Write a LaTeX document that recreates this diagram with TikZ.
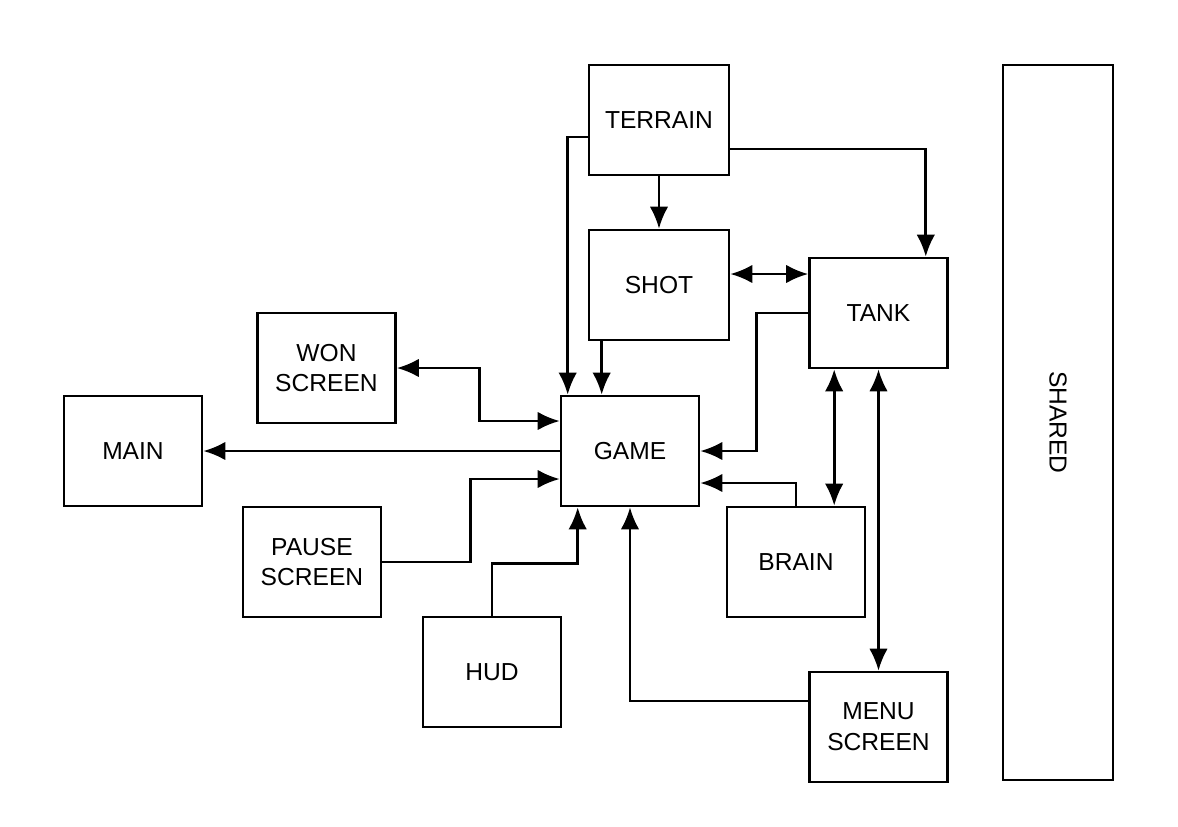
\documentclass[tikz,border=0pt]{standalone}
\usepackage{fontspec}
\setmainfont{Liberation Sans}
\usetikzlibrary{arrows.meta,calc}

\tikzset{
	block/.style={draw, line width=1.5pt, minimum width=2.76cm, minimum height=2.2cm, align=center, inner sep=0pt, font=\fontsize{14}{17.5}\selectfont},
	arr/.style={line width=1.5pt, -{Latex[length=12.5pt,width=10.5pt]}},
	darr/.style={line width=1.5pt, {Latex[length=12.5pt,width=10.5pt]}-{Latex[length=12.5pt,width=10.5pt]}}
}

\begin{document}
\begin{tikzpicture}[x=0.02cm, y=-0.02cm]
		\useasboundingbox (0,0) rectangle (1178,826);

		\node[block, minimum width=2.8cm] (terrain) at (659,120) {TERRAIN};
		\node[block, minimum width=2.8cm] (shot) at (659,285) {SHOT};
		\node[block] (tank) at (878.5,313) {TANK};
		\node[block] (won) at (326.5,368) {WON\\SCREEN};
		\node[block] (main) at (133,451) {MAIN};
		\node[block] (game) at (630,451) {GAME};
		\node[block] (pause) at (312,562) {PAUSE\\SCREEN};
		\node[block] (brain) at (796,562) {BRAIN};
		\node[block] (hud) at (492,672) {HUD};
		\node[block] (menu) at (878.5,727) {MENU\\SCREEN};
		\node[block, minimum width=2.2cm, minimum height=14.3cm] (shared) at (1058,422.5) {\rotatebox{-90}{SHARED}};

		% terrain
		\draw[arr] ($(terrain.west)+(0,17)$) -| ($(game.north west)+(8,0)$);
		\draw[arr] (terrain.south) -- (shot.north);
		\draw[arr] ($(terrain.east)+(0,29)$) -| ($(tank.north east)+(-23,0)$);

		% shot and tank
		\draw[darr] ($(shot.east)+(0,-11)$) coordinate (st) -- (st -| tank.west);
		\draw[arr] ($(shot.south west)+(14,0)$) coordinate (sg) -- (sg |- game.north);
		\draw[arr] (tank.west) -| ($(game.east)+(56,0)$) -- (game.east);
		\draw[darr] ($(tank.south west)+(26,0)$) coordinate (tb) -- (tb |- brain.north);
		\draw[darr] (tank.south) -- (menu.north);

		% into game
		\draw[darr] (won.east) -- ++(83,0) |- ($(game.west)+(0,-30)$);
		\draw[arr] (game.west) -- (main.east);
		\draw[arr] (pause.east) -- ++(88,0) |- ($(game.west)+(0,28)$);
		\draw[arr] (hud.north) -- ++(0,-52) -| ($(game.south west)+(18,0)$);
		\draw[arr] ($(menu.west)+(0,-26)$) -| (game.south);
		\draw[arr] (brain.north) |- ($(game.east)+(0,32)$);
		\end{tikzpicture}
\end{document}
